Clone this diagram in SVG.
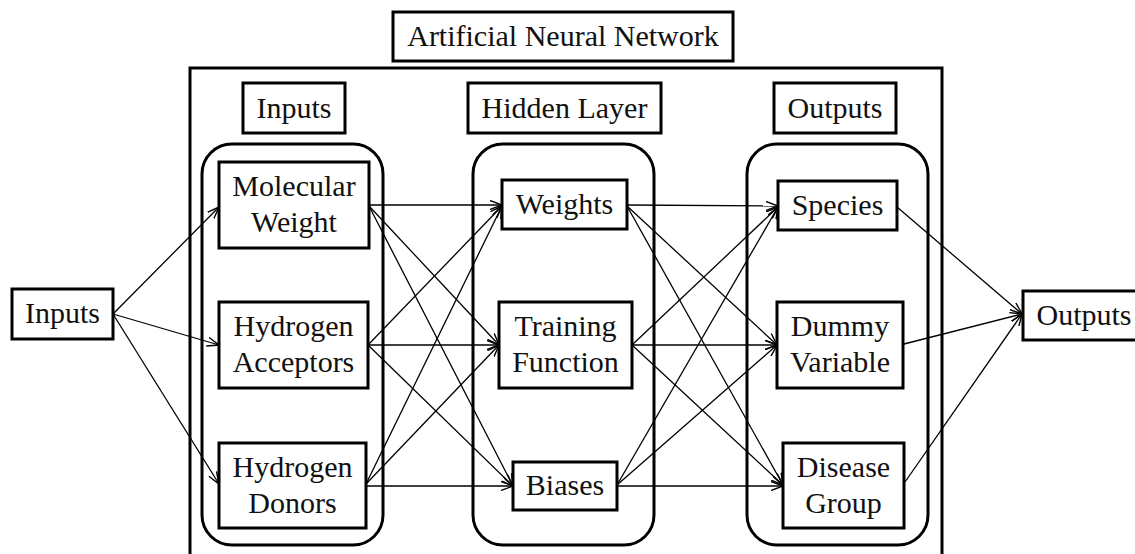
<svg xmlns="http://www.w3.org/2000/svg" width="1135" height="554" viewBox="0 0 1135 554">
<style>
.box{fill:#fff;stroke:#000;stroke-width:3}
.frame{fill:none;stroke:#000;stroke-width:3}
text{font-family:"Liberation Serif","Times New Roman",serif;font-size:30px;fill:#111;text-anchor:middle}
.c line{stroke:#000;stroke-width:1.3;fill:none;marker-end:url(#ah)}
</style>
<defs>
<marker id="ah" viewBox="0 0 12 10" refX="12" refY="5" markerWidth="12" markerHeight="10" markerUnits="userSpaceOnUse" orient="auto">
<path d="M0,0.5 L12,5 L0,9.5" fill="none" stroke="#000" stroke-width="1.4"/>
</marker>
</defs>
<rect x="0" y="0" width="1135" height="554" fill="#fff"/>

<g id="ann-frame">
<rect class="frame" x="190" y="68" width="752" height="500"/>
</g>
<g id="title">
<rect class="box" x="393" y="12" width="340" height="49"/>
<text x="563" y="46">Artificial Neural Network</text>
</g>

<g id="group-inputs">
<rect class="frame" x="202" y="144" width="181" height="401" rx="30" ry="30"/>
</g>
<g id="group-hidden">
<rect class="frame" x="473" y="144" width="181" height="401" rx="30" ry="30"/>
</g>
<g id="group-outputs">
<rect class="frame" x="747" y="144" width="181" height="401" rx="30" ry="30"/>
</g>

<g id="label-inputs">
<rect class="box" x="243" y="83" width="102" height="50"/>
<text x="294" y="118">Inputs</text>
</g>
<g id="label-hidden">
<rect class="box" x="468" y="83" width="193" height="50"/>
<text x="564.5" y="118">Hidden Layer</text>
</g>
<g id="label-outputs">
<rect class="box" x="774" y="83" width="122" height="50"/>
<text x="835" y="118">Outputs</text>
</g>

<g class="c" id="connectors">
<line x1="113" y1="314" x2="219" y2="207"/>
<line x1="113" y1="314" x2="219" y2="345"/>
<line x1="113" y1="314" x2="219" y2="484"/>

<line x1="369" y1="205" x2="502" y2="205"/>
<line x1="369" y1="206" x2="499" y2="345"/>
<line x1="369" y1="206" x2="513" y2="486"/>
<line x1="368" y1="345" x2="502" y2="206"/>
<line x1="368" y1="345" x2="499" y2="345"/>
<line x1="368" y1="345" x2="513" y2="486"/>
<line x1="366" y1="484" x2="502" y2="206"/>
<line x1="366" y1="484" x2="499" y2="345"/>
<line x1="366" y1="486" x2="513" y2="486"/>

<line x1="627" y1="205" x2="778" y2="206"/>
<line x1="627" y1="206" x2="777" y2="345"/>
<line x1="627" y1="206" x2="783" y2="485"/>
<line x1="632" y1="345" x2="778" y2="207"/>
<line x1="632" y1="345" x2="777" y2="345"/>
<line x1="632" y1="345" x2="783" y2="485"/>
<line x1="617" y1="485" x2="778" y2="207"/>
<line x1="617" y1="485" x2="777" y2="345"/>
<line x1="617" y1="486" x2="783" y2="486"/>

<line x1="897" y1="207" x2="1022" y2="314"/>
<line x1="904" y1="344" x2="1022" y2="314"/>
<line x1="905" y1="482" x2="1022" y2="314"/>
</g>

<g id="inputs-src">
<rect class="box" x="12" y="289" width="101" height="50"/>
<text x="62.5" y="323">Inputs</text>
</g>
<g id="molecular-weight">
<rect class="box" x="219" y="162" width="150" height="86"/>
<text x="294" y="196">Molecular</text>
<text x="294" y="232">Weight</text>
</g>
<g id="hydrogen-acceptors">
<rect class="box" x="219" y="302" width="149" height="86"/>
<text x="293.5" y="336">Hydrogen</text>
<text x="293.5" y="372">Acceptors</text>
</g>
<g id="hydrogen-donors">
<rect class="box" x="219" y="443" width="147" height="85"/>
<text x="292.5" y="477">Hydrogen</text>
<text x="292.5" y="513">Donors</text>
</g>

<g id="weights">
<rect class="box" x="502" y="180" width="125" height="49"/>
<text x="564.5" y="214">Weights</text>
</g>
<g id="training-function">
<rect class="box" x="499" y="302" width="133" height="86"/>
<text x="565.5" y="336">Training</text>
<text x="565.5" y="372">Function</text>
</g>
<g id="biases">
<rect class="box" x="513" y="462" width="104" height="48"/>
<text x="565" y="495">Biases</text>
</g>

<g id="species">
<rect class="box" x="778" y="181" width="119" height="49"/>
<text x="837.5" y="215">Species</text>
</g>
<g id="dummy-variable">
<rect class="box" x="777" y="302" width="126" height="86"/>
<text x="840" y="336">Dummy</text>
<text x="840" y="372">Variable</text>
</g>
<g id="disease-group">
<rect class="box" x="783" y="443" width="121" height="85"/>
<text x="843.5" y="477">Disease</text>
<text x="843.5" y="513">Group</text>
</g>

<g id="outputs-dst">
<rect class="box" x="1023" y="291" width="130" height="49"/>
<text x="1084" y="325">Outputs</text>
</g>
</svg>
